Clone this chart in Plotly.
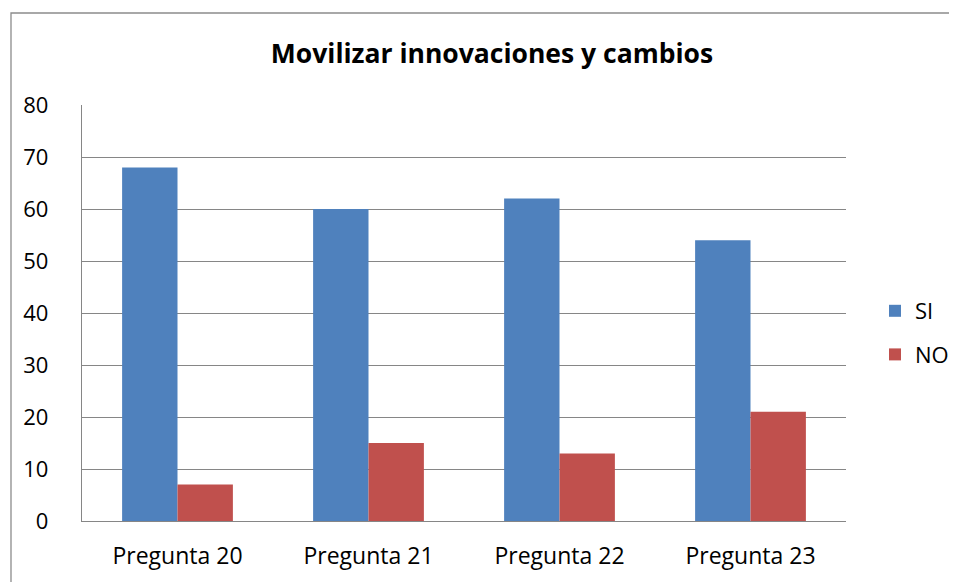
import plotly.graph_objects as go

categories = ["Pregunta 20", "Pregunta 21", "Pregunta 22", "Pregunta 23"]
si_values = [68, 60, 62, 54]
no_values = [7, 15, 13, 21]
y_ticks = [0, 10, 20, 30, 40, 50, 60, 70, 80]

FONT = "Open Sans"
GRID = "#868686"
FS = 23

fig = go.Figure()
fig.add_trace(go.Bar(name="SI", x=categories, y=si_values, marker=dict(color="#4F81BD", line=dict(width=0)), legendgroup="a"))
fig.add_trace(go.Bar(name="NO", x=categories, y=no_values, marker=dict(color="#C0504D", line=dict(width=0)), legendgroup="b"))

# page body has an 8px margin; work in reference pixel coords minus that offset
OFF = 8
W, H = 957 - OFF, 582 - OFF
L, R, T, B = 82 - OFF, 846 - OFF, 105 - OFF, 521 - OFF

fig.update_layout(
    width=W, height=H,
    margin=dict(l=L, r=W - R, t=T, b=H - B, pad=0, autoexpand=False),
    paper_bgcolor="white", plot_bgcolor="white",
    barmode="group", bargap=0.42, bargroupgap=0,
    font=dict(family=FONT, color="black", size=FS),
    title=dict(text="<b>Movilizar innovaciones y cambios</b>", x=(492 - OFF) / W, xref="container", xanchor="center",
               y=1 - (54 - OFF) / H, yref="container", yanchor="middle", font=dict(family=FONT, size=26.5, color="black")),
    legend=dict(x=(875 - OFF) / W, xref="container", xanchor="left", y=1 - (290 - OFF) / H, yref="container",
                yanchor="top", font=dict(family=FONT, size=22), tracegroupgap=12, bgcolor="rgba(0,0,0,0)",
                itemwidth=30),
    xaxis=dict(showgrid=False, showline=True, linecolor=GRID, linewidth=1.3, ticks="", ticklabelstandoff=14,
               tickfont=dict(family=FONT, size=FS)),
    yaxis=dict(range=[0, 80], tickvals=y_ticks, showgrid=True, gridcolor=GRID, gridwidth=1.3, zeroline=False,
               showline=True, linecolor=GRID, linewidth=1.3, ticks="", ticklabelstandoff=28,
               tickfont=dict(family=FONT, size=22)),
    shapes=[dict(type="rect", xref="paper", yref="paper",
                 x0=(11 - OFF - L) / (R - L), x1=(W + 20 - L) / (R - L),
                 y0=(B - (H + 20)) / (B - T), y1=(B - (13 - OFF)) / (B - T),
                 line=dict(color="#8C8C8C", width=1.3), fillcolor="rgba(0,0,0,0)", layer="below")],
)

fig.write_html("out.html")
